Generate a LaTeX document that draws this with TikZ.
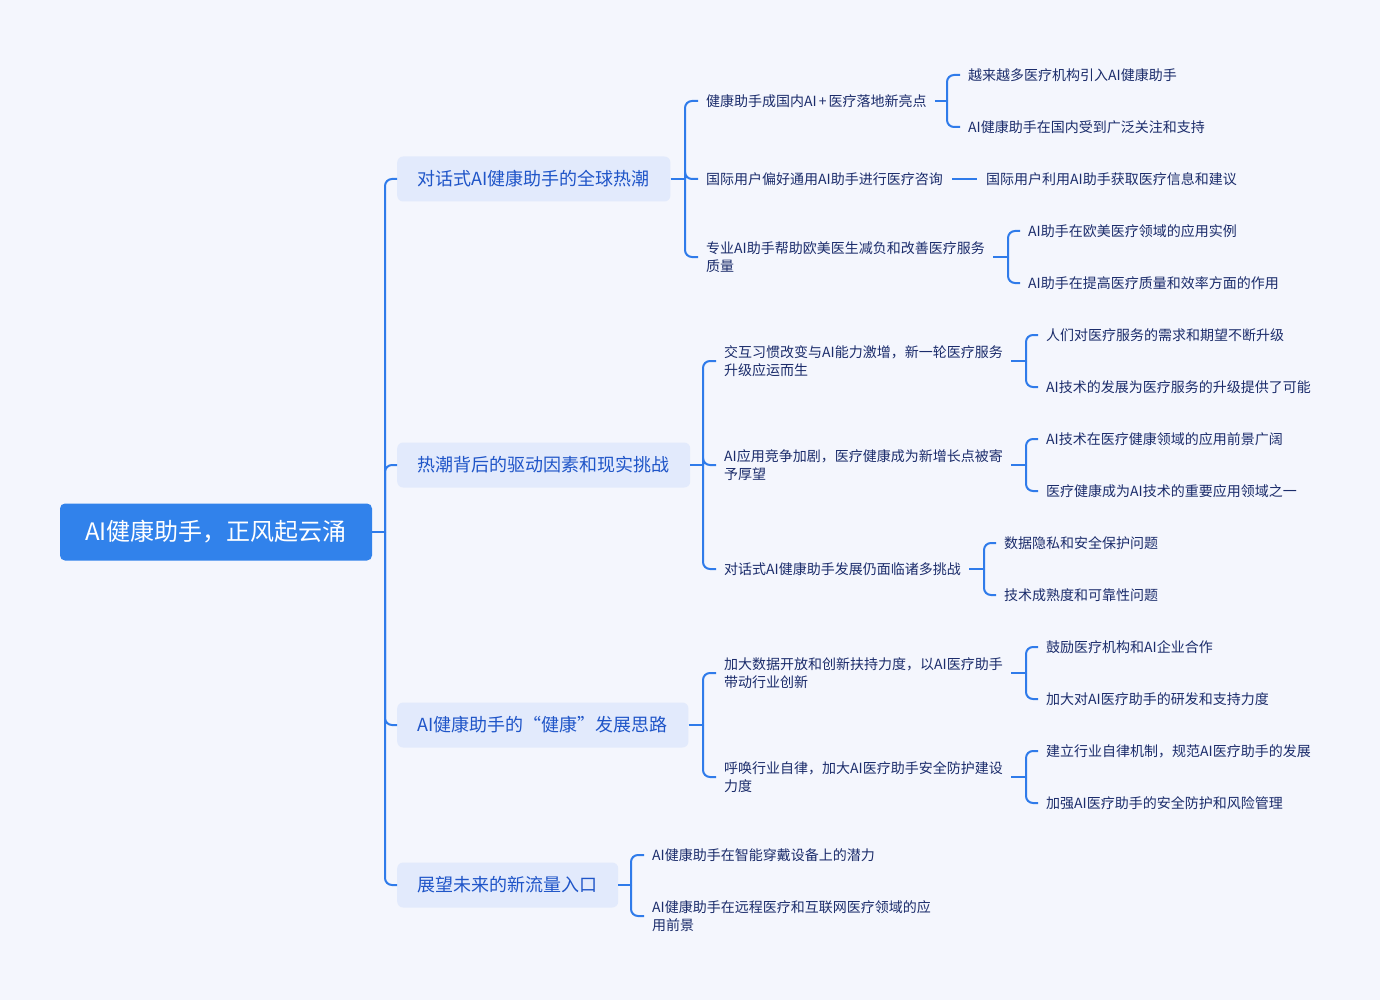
\documentclass[tikz,border=0pt]{standalone}
\usepackage{fontspec}
\setmainfont{Noto Sans CJK SC}
\usetikzlibrary{calc}
\definecolor{bg}{HTML}{F4F6FD}
\definecolor{rootblue}{HTML}{3182EB}
\definecolor{boxfill}{HTML}{E2EAFC}
\definecolor{lonetext}{HTML}{1F55C8}
\definecolor{leaftext}{HTML}{1B2C6B}
\definecolor{linec}{HTML}{2F7BEA}
\newcommand\fork[5]{% parent, trunk x, stub gap, child gap, children
  \draw[conn] let \p1=(#1.east) in ([xshift=#3]#1.east) -- (#2pt,\y1);
  \foreach \c in {#5}{
    \draw[conn] let \p1=(#1.east) in (#2pt,\y1) |- ([xshift=-#4]\c.west);
  }
}
\begin{document}
\begin{tikzpicture}[x=1pt,y=-1pt,
  rootbox/.style={fill=rootblue, rounded corners=5pt, text=white, font=\fontsize{24}{28}\selectfont, minimum width=312pt, minimum height=57pt, inner sep=0pt},
  lonebox/.style={fill=boxfill, rounded corners=6pt, text=lonetext, font=\fontsize{18}{22}\selectfont, minimum height=45pt, inner xsep=20.5pt, inner ysep=0pt, anchor=west},
  leaf/.style={text=leaftext, font=\fontsize{14}{18}\selectfont, inner sep=0pt, anchor=west, align=left},
  conn/.style={draw=linec, line width=2pt, rounded corners=7pt},
]
\fill[bg] (0,0) rectangle (1380,1000);
\useasboundingbox (0,0) rectangle (1380,1000);

\node[rootbox] (r) at (216,532) {AI健康助手，正风起云涌};

\node[lonebox] (A) at (397,179) {对话式AI健康助手的全球热潮};
\node[lonebox] (B) at (397,465) {热潮背后的驱动因素和现实挑战};
\node[lonebox] (C) at (397,725) {AI健康助手的“健康”发展思路};
\node[lonebox] (D) at (397,885) {展望未来的新流量入口};

% group 1
\node[leaf] (a1) at (706,101) {健康助手成国内AI\hspace{2pt}+\hspace{2pt}医疗落地新亮点};
\node[leaf] (a2) at (706,179) {国际用户偏好通用AI助手进行医疗咨询};
\node[leaf] (a3) at (706,257) {专业AI助手帮助欧美医生减负和改善医疗服务\\质量};
\node[leaf] (a11) at (968,75) {越来越多医疗机构引入AI健康助手};
\node[leaf] (a12) at (968,127) {AI健康助手在国内受到广泛关注和支持};
\node[leaf] (a21) at (986,179) {国际用户利用AI助手获取医疗信息和建议};
\node[leaf] (a31) at (1028,231) {AI助手在欧美医疗领域的应用实例};
\node[leaf] (a32) at (1028,283) {AI助手在提高医疗质量和效率方面的作用};

% group 2
\node[leaf] (b1) at (724,361) {交互习惯改变与AI能力激增，新一轮医疗服务\\升级应运而生};
\node[leaf] (b2) at (724,465) {AI应用竞争加剧，医疗健康成为新增长点被寄\\予厚望};
\node[leaf] (b3) at (724,569) {对话式AI健康助手发展仍面临诸多挑战};
\node[leaf] (b11) at (1046,335) {人们对医疗服务的需求和期望不断升级};
\node[leaf] (b12) at (1046,387) {AI技术的发展为医疗服务的升级提供了可能};
\node[leaf] (b21) at (1046,439) {AI技术在医疗健康领域的应用前景广阔};
\node[leaf] (b22) at (1046,491) {医疗健康成为AI技术的重要应用领域之一};
\node[leaf] (b31) at (1004,543) {数据隐私和安全保护问题};
\node[leaf] (b32) at (1004,595) {技术成熟度和可靠性问题};

% group 3
\node[leaf] (c1) at (724,673) {加大数据开放和创新扶持力度，以AI医疗助手\\带动行业创新};
\node[leaf] (c2) at (724,777) {呼唤行业自律，加大AI医疗助手安全防护建设\\力度};
\node[leaf] (c11) at (1046,647) {鼓励医疗机构和AI企业合作};
\node[leaf] (c12) at (1046,699) {加大对AI医疗助手的研发和支持力度};
\node[leaf] (c21) at (1046,751) {建立行业自律机制，规范AI医疗助手的发展};
\node[leaf] (c22) at (1046,803) {加强AI医疗助手的安全防护和风险管理};

% group 4
\node[leaf] (d1) at (652,855) {AI健康助手在智能穿戴设备上的潜力};
\node[leaf] (d2) at (652,916) {AI健康助手在远程医疗和互联网医疗领域的应\\用前景};

% connectors
\fork{r}{385}{0pt}{0pt}{A,B,C,D}
\fork{A}{685}{0pt}{8pt}{a1,a2,a3}
\fork{a1}{947}{8pt}{8pt}{a11,a12}
\draw[conn] ([xshift=9pt]a2.east) -- ([xshift=-9pt]a21.west);
\fork{a3}{1008}{8pt}{8pt}{a31,a32}
\fork{B}{703}{0pt}{8pt}{b1,b2,b3}
\fork{b1}{1026}{8pt}{8pt}{b11,b12}
\fork{b2}{1026}{8pt}{8pt}{b21,b22}
\fork{b3}{984}{8pt}{8pt}{b31,b32}
\fork{C}{703}{0pt}{8pt}{c1,c2}
\fork{c1}{1026}{8pt}{8pt}{c11,c12}
\fork{c2}{1026}{8pt}{8pt}{c21,c22}
\fork{D}{631}{0pt}{8pt}{d1,d2}
\end{tikzpicture}
\end{document}
